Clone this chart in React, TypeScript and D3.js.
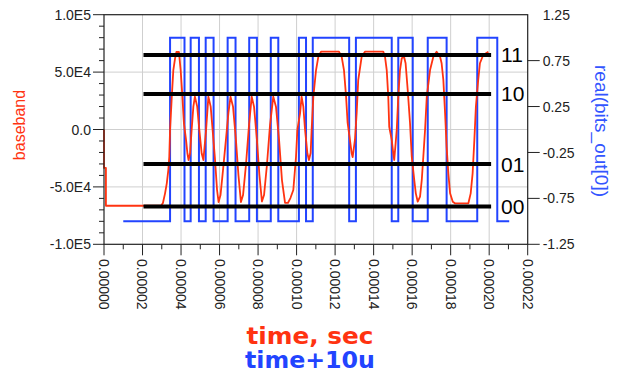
import React from "react";
import * as d3 from "d3";

// Baseband waveform samples: [time in µs, amplitude]
const basebandSamples: [number, number][] = [
  [0, 0], [0, -33500], [1.0, -33500], [1.0, -66400], [29.6, -66400],
  [30.6, -64000], [31.7, -55600], [32.6, -46900], [33.4, -35300], [33.9, -23700],
  [34.3, -400], [35.2, 28600], [36.0, 51800], [36.9, 62000], [37.6, 67500],
  [38.9, 67500], [39.8, 51800], [40.7, 28600], [41.5, 5400], [42.6, -9100],
  [43.3, -20700], [43.9, -26600], [44.7, -20700], [45.5, -400], [46.4, 19900],
  [47.2, 28600], [48.4, 19900], [49.5, -400], [50.7, -20700], [51.6, -26600],
  [53.0, -400], [54.2, 28600], [55.4, 19900], [56.4, -400], [57.6, -25100],
  [58.7, -52700], [59.5, -63200], [60.5, -57100], [61.8, -35300], [63.3, -9100],
  [64.6, 14400], [65.7, 28600], [67.0, 19900], [68.5, -9100], [69.8, -39600],
  [71.1, -63200], [72.2, -57100], [73.7, -30900], [75.3, 3900], [76.7, 28600],
  [77.9, 19900], [79.4, -9100], [80.7, -39600], [82.0, -62700], [83.1, -57100],
  [84.6, -30900], [86.2, 3900], [87.9, 28600], [89.3, 19900], [90.9, -9100],
  [92.4, -44000], [94.0, -64000], [95.5, -64000], [96.8, -59700], [98.3, -52700],
  [99.7, -23700], [100.4, -400], [101.8, 14100], [102.6, 28600], [103.5, 19900],
  [104.4, -400], [105.6, -20700], [106.4, -26600], [107.3, -20500], [107.8, -400],
  [108.7, 28600], [110.1, 51800], [111.3, 63400], [112.7, 67800], [122.0, 67800],
  [123.4, 63400], [124.6, 51800], [125.7, 28600], [126.5, 5700], [127.7, -9100],
  [128.6, -20700], [129.1, -24000], [130.3, -9100], [131.2, 14400], [132.0, 43100],
  [133.8, 63400], [135.5, 67800], [145.0, 67800], [145.9, 63400], [146.8, 51800],
  [147.6, 28600], [148.1, 2400], [149.4, -9100], [150.2, -20700], [150.7, -26600],
  [152.0, -400], [152.8, 28600], [153.7, 51800], [154.6, 62000], [155.8, 63400],
  [156.6, 57700], [157.7, 34400], [158.9, 5400], [159.8, -23700], [161.1, -44000],
  [161.9, -55600], [162.9, -62900], [164.1, -58500], [165.0, -44000], [165.8, -23700],
  [166.7, -400], [167.6, 28600], [169.3, 51800], [171.0, 63400], [172.7, 67800],
  [174.5, 63400], [175.3, 57700], [176.2, 43100], [177.1, 14100], [177.9, -15000],
  [178.8, -38200], [179.7, -55600], [181.1, -62900], [182.2, -64300], [189.2, -64300],
  [190.4, -55600], [191.4, -38200], [192.3, -9100], [193.1, 19900], [194.3, 43100],
  [195.2, 57700], [196.9, 64900], [199.6, 67800],
];

// Recovered bit stream: edge times (µs, before the +10u shift) and levels held after each edge
const bitEdgesUs = [
  0, 24.3, 31.8, 35.0, 39.3, 42.8, 46.9, 54.2, 58.3, 65.4, 69.4, 76.6, 80.5,
  91.2, 94.9, 98.4, 117.3, 120.8, 139.4, 142.8, 150.3, 158.1, 167.9, 183.8, 194.2, 200.4,
];
const bitLevels = [
  -1, 1, -1, 1, -1, 1, -1, 1, -1, 1, -1, 1, -1,
  1, -1, 1, -1, 1, -1, 1, -1, 1, -1, 1, -1, -1,
];
const bitShift = 10e-6;

// Symbol decision levels
const levelNames = ["11", "10", "01", "00"];
const levelValues = [65000, 31000, -30000, -67000];
const levelSpan = [20.5e-6, 201e-6];

// Axis ticks
const xMajorTicks = [0, 2e-5, 4e-5, 6e-5, 8e-5, 1e-4, 1.2e-4, 1.4e-4, 1.6e-4, 1.8e-4, 2e-4, 2.2e-4];
const xTickLabels = ["0.00000", "0.00002", "0.00004", "0.00006", "0.00008", "0.00010", "0.00012", "0.00014", "0.00016", "0.00018", "0.00020", "0.00022"];
const xMinorTicks = [1e-5, 3e-5, 5e-5, 7e-5, 9e-5, 1.1e-4, 1.3e-4, 1.5e-4, 1.7e-4, 1.9e-4, 2.1e-4];
const leftMajorTicks = [1e5, 5e4, 0, -5e4, -1e5];
const leftTickLabels = ["1.0E5", "5.0E4", "0.0", "-5.0E4", "-1.0E5"];
const leftMinorTicks = [9e4, 8e4, 7e4, 6e4, 4e4, 3e4, 2e4, 1e4, -1e4, -2e4, -3e4, -4e4, -6e4, -7e4, -8e4, -9e4];
const rightTicks = [1.25, 0.75, 0.25, -0.25, -0.75, -1.25];
const rightTickLabels = ["1.25", "0.75", "0.25", "-0.25", "-0.75", "-1.25"];

const W = 623;
const H = 373;
const RED = "#ff3311";
const BLUE = "#2244ff";
const TICK_FONT = "'Liberation Sans', Arial, sans-serif";
const TITLE_FONT = "'DejaVu Sans', Verdana, sans-serif";

export default function App() {
  const left = 104;
  const right = 527.7;
  const top = 14.7;
  const bottom = 244.3;

  const x = d3.scaleLinear().domain([0, 2.2e-4]).range([left, right]);
  const yL = d3.scaleLinear().domain([-1e5, 1e5]).range([bottom, top]);
  const yR = d3.scaleLinear().domain([-1.25, 1.25]).range([bottom, top]);

  const redPath = d3
    .line<[number, number]>()
    .x((d) => x(d[0] * 1e-6))
    .y((d) => yL(d[1]))
    .curve(d3.curveLinear)(basebandSamples) as string;

  const bluePts: [number, number][] = bitEdgesUs.map((t, i) => [t * 1e-6 + bitShift, bitLevels[i]]);
  const bluePath = d3
    .line<[number, number]>()
    .x((d) => x(d[0]))
    .y((d) => yR(d[1]))
    .curve(d3.curveStepAfter)(bluePts) as string;

  return (
    <svg
      width={W}
      height={H}
      viewBox={`0 0 ${W} ${H}`}
      style={{ position: "absolute", left: 0, top: 0, background: "#fff" }}
    >
      <rect x={0} y={0} width={W} height={H} fill="#fff" />

      {/* grid */}
      <g stroke="#cfcfcf" strokeWidth={1}>
        {xMajorTicks.slice(1, -1).map((t) => (
          <line key={`gx${t}`} x1={x(t)} x2={x(t)} y1={top} y2={bottom} />
        ))}
        {leftMajorTicks.slice(1, -1).map((v) => (
          <line key={`gy${v}`} x1={left} x2={right} y1={yL(v)} y2={yL(v)} />
        ))}
      </g>

      {/* traces */}
      <path d={bluePath} fill="none" stroke={BLUE} strokeWidth={2} />
      <path d={redPath} fill="none" stroke={RED} strokeWidth={1.8} strokeLinejoin="round" />

      {/* decision levels */}
      <g>
        {levelValues.map((v, i) => (
          <g key={levelNames[i]}>
            <line
              x1={x(levelSpan[0])}
              x2={x(levelSpan[1])}
              y1={yL(v)}
              y2={yL(v)}
              stroke="#000"
              strokeWidth={4}
            />
            <text
              x={x(levelSpan[1]) + 10}
              y={yL(v)}
              dy="0.36em"
              fontFamily={TICK_FONT}
              fontSize={21}
              fill="#000"
            >
              {levelNames[i]}
            </text>
          </g>
        ))}
      </g>

      {/* frame */}
      <rect x={left} y={top} width={right - left} height={bottom - top} fill="none" stroke="#222" strokeWidth={1.2} />

      {/* bottom axis */}
      <g stroke="#222" strokeWidth={1}>
        {xMajorTicks.map((t) => (
          <line key={`xt${t}`} x1={x(t)} x2={x(t)} y1={bottom} y2={bottom + 11} />
        ))}
        {xMinorTicks.map((t) => (
          <line key={`xm${t}`} x1={x(t)} x2={x(t)} y1={bottom} y2={bottom + 5} />
        ))}
      </g>
      <g fontFamily={TICK_FONT} fontSize={14} fill="#222">
        {xMajorTicks.map((t, i) => (
          <text key={`xl${t}`} transform={`translate(${x(t)},259) rotate(90)`} dy="0.36em">
            {xTickLabels[i]}
          </text>
        ))}
      </g>

      {/* left axis */}
      <g stroke="#222" strokeWidth={1}>
        {leftMajorTicks.map((v) => (
          <line key={`lt${v}`} x1={left - 11} x2={left} y1={yL(v)} y2={yL(v)} />
        ))}
        {leftMinorTicks.map((v) => (
          <line key={`lm${v}`} x1={left - 5} x2={left} y1={yL(v)} y2={yL(v)} />
        ))}
      </g>
      <g fontFamily={TICK_FONT} fontSize={14} fill="#222" textAnchor="end">
        {leftMajorTicks.map((v, i) => (
          <text key={`ll${v}`} x={left - 13} y={yL(v)} dy="0.36em">
            {leftTickLabels[i]}
          </text>
        ))}
      </g>

      {/* right axis */}
      <g stroke="#222" strokeWidth={1}>
        {rightTicks.slice(1).map((v) => (
          <line key={`rt${v}`} x1={right} x2={right + 12} y1={yR(v)} y2={yR(v)} />
        ))}
      </g>
      <g fontFamily={TICK_FONT} fontSize={14} fill="#222">
        {rightTicks.map((v, i) => (
          <text key={`rl${v}`} x={right + 15} y={yR(v)} dy="0.36em">
            {rightTickLabels[i]}
          </text>
        ))}
      </g>

      {/* axis titles */}
      <text
        transform="translate(25,125) rotate(-90)"
        textAnchor="middle"
        fontFamily={TICK_FONT}
        fontSize={16}
        fill={RED}
      >
        baseband
      </text>
      <text
        transform="translate(595,131) rotate(90)"
        textAnchor="middle"
        fontFamily={TICK_FONT}
        fontSize={19}
        fill="#3355ff"
      >
        real(bits_out[0])
      </text>
      <text
        x={310}
        y={344}
        textAnchor="middle"
        fontFamily={TITLE_FONT}
        fontWeight="bold"
        fontSize={23}
        fill={RED}
        textLength={127}
        lengthAdjust="spacingAndGlyphs"
      >
        time, sec
      </text>
      <text
        x={310}
        y={368}
        textAnchor="middle"
        fontFamily={TITLE_FONT}
        fontWeight="bold"
        fontSize={23}
        fill={BLUE}
        textLength={130}
        lengthAdjust="spacingAndGlyphs"
      >
        time+10u
      </text>
    </svg>
  );
}
